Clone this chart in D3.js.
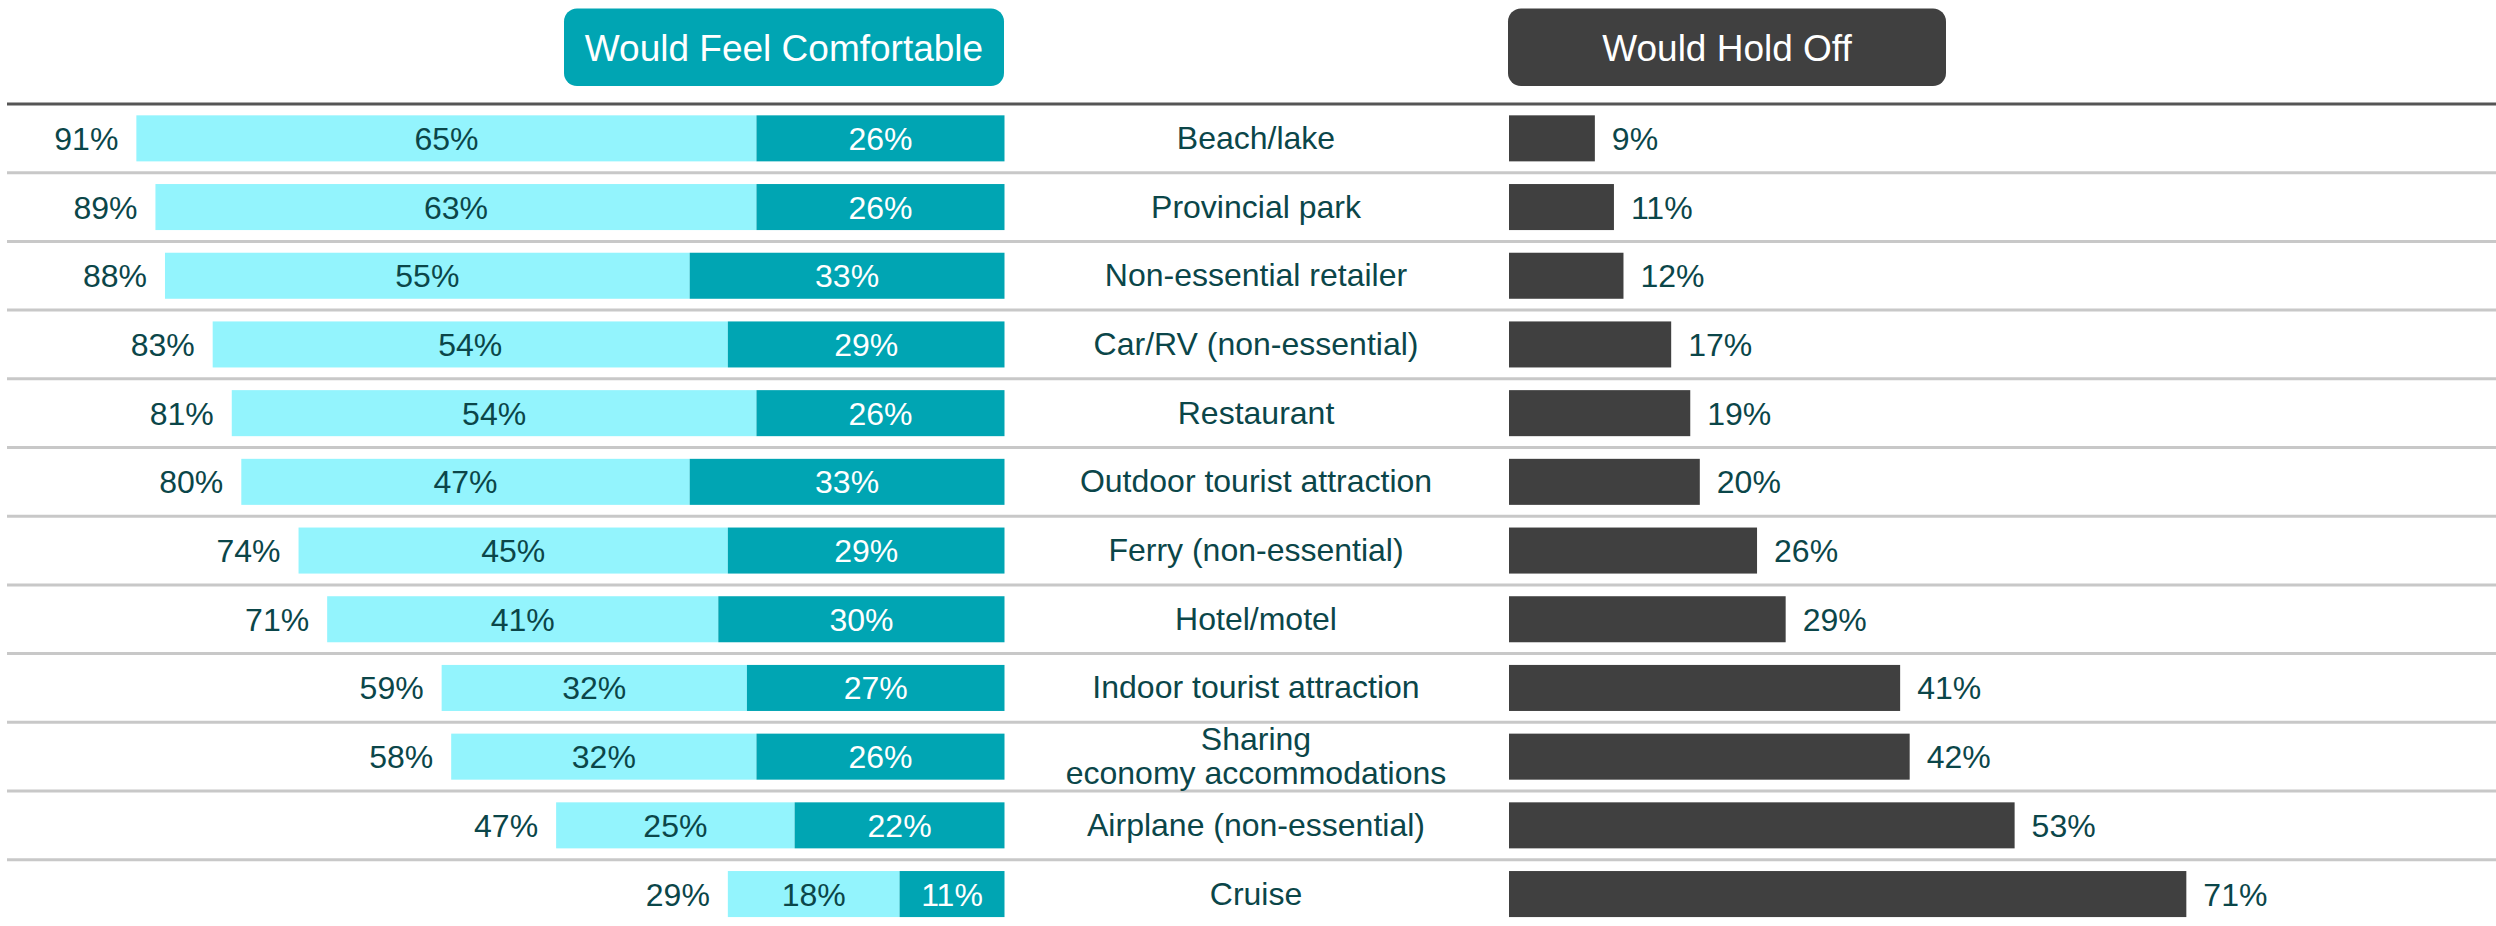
<!DOCTYPE html>
<html>
<head>
<meta charset="utf-8">
<script src="https://cdn.jsdelivr.net/npm/d3@7"></script>
<style>
  html, body { margin: 0; padding: 0; background: #ffffff; }
  svg { display: block; }
  text { font-family: "Liberation Sans", Arial, "DejaVu Sans", sans-serif; }
</style>
</head>
<body>
<svg id="chart" width="2496" height="926"></svg>
<script>
// ---- Data ----
const categories = [
  "Beach/lake", "Provincial park", "Non-essential retailer", "Car/RV (non-essential)",
  "Restaurant", "Outdoor tourist attraction", "Ferry (non-essential)", "Hotel/motel",
  "Indoor tourist attraction", "Sharing\neconomy accommodations", "Airplane (non-essential)", "Cruise"
];
const somewhatComfortable = [65, 63, 55, 54, 54, 47, 45, 41, 32, 32, 25, 18];
const veryComfortable     = [26, 26, 33, 29, 26, 33, 29, 30, 27, 26, 22, 11];
const totalComfortable    = [91, 89, 88, 83, 81, 80, 74, 71, 59, 58, 47, 29];
const holdOff             = [9, 11, 12, 17, 19, 20, 26, 29, 41, 42, 53, 71];
const headers = ["Would Feel Comfortable", "Would Hold Off"];

// ---- Layout ----
const W = 2496, H = 926;
const svg = d3.select("#chart");
const textColor = "#0b4649";
const lightCyan = "#93f4fd";
const teal = "#00a5b3";
const dark = "#404040";

const rowTop = 104, rowH = 68.7;
const y = d3.scaleBand()
  .domain(d3.range(categories.length))
  .range([rowTop, rowTop + rowH * categories.length])
  .paddingInner(0.33).paddingOuter(0.165);

const leftEnd = 1004.5, rightStart = 1509, pxPer = 9.54;
const xLeft = d3.scaleLinear().domain([0, 100]).range([leftEnd, leftEnd - 100 * pxPer]);
const xRight = d3.scaleLinear().domain([0, 100]).range([rightStart, rightStart + 100 * pxPer]);
const labelX = 1256;
const fs = 32;

// ---- Headers ----
const headerBoxes = [
  { x: 564, w: 440, fill: teal, text: headers[0] },
  { x: 1508, w: 438, fill: dark, text: headers[1] }
];
const hg = svg.append("g");
hg.selectAll("rect").data(headerBoxes).join("rect")
  .attr("x", d => d.x).attr("y", 8.5).attr("width", d => d.w).attr("height", 77.5)
  .attr("rx", 13).attr("ry", 13).attr("fill", d => d.fill);
hg.selectAll("text").data(headerBoxes).join("text")
  .attr("x", d => d.x + d.w / 2).attr("y", 61)
  .attr("text-anchor", "middle").attr("fill", "#ffffff")
  .attr("font-size", 37).text(d => d.text);

// ---- Grid lines ----
svg.append("line")
  .attr("x1", 7).attr("x2", W).attr("y1", rowTop).attr("y2", rowTop)
  .attr("stroke", "#555555").attr("stroke-width", 3);
svg.append("g").selectAll("line").data(d3.range(1, categories.length)).join("line")
  .attr("x1", 7).attr("x2", W)
  .attr("y1", i => rowTop + rowH * i).attr("y2", i => rowTop + rowH * i)
  .attr("stroke", "#c8c8c8").attr("stroke-width", 3);

const rows = d3.range(categories.length);
const cy = i => y(i) + y.bandwidth() / 2;
const base = 0.358 * fs;

// ---- Left stacked bars ----
const lg = svg.append("g");
// light segment: from the "very" boundary out to the total
lg.selectAll("rect.light").data(rows).join("rect").attr("class", "light")
  .attr("x", i => xLeft(totalComfortable[i]))
  .attr("y", i => y(i)).attr("height", y.bandwidth())
  .attr("width", i => xLeft(veryComfortable[i]) - xLeft(totalComfortable[i]))
  .attr("fill", lightCyan);
lg.selectAll("rect.very").data(rows).join("rect").attr("class", "very")
  .attr("x", i => xLeft(veryComfortable[i]))
  .attr("y", i => y(i)).attr("height", y.bandwidth())
  .attr("width", i => xLeft(0) - xLeft(veryComfortable[i]))
  .attr("fill", teal);
lg.selectAll("text.lightlab").data(rows).join("text").attr("class", "lightlab")
  .attr("x", i => (xLeft(veryComfortable[i]) + xLeft(totalComfortable[i])) / 2)
  .attr("y", i => cy(i) + base).attr("text-anchor", "middle")
  .attr("font-size", fs).attr("fill", textColor)
  .text(i => somewhatComfortable[i] + "%");
lg.selectAll("text.verylab").data(rows).join("text").attr("class", "verylab")
  .attr("x", i => (xLeft(0) + xLeft(veryComfortable[i])) / 2)
  .attr("y", i => cy(i) + base).attr("text-anchor", "middle")
  .attr("font-size", fs).attr("fill", "#ffffff")
  .text(i => veryComfortable[i] + "%");
lg.selectAll("text.total").data(rows).join("text").attr("class", "total")
  .attr("x", i => xLeft(totalComfortable[i]) - 18)
  .attr("y", i => cy(i) + base).attr("text-anchor", "end")
  .attr("font-size", fs).attr("fill", textColor)
  .text(i => totalComfortable[i] + "%");

// ---- Category labels ----
const cg = svg.append("g");
cg.selectAll("text").data(rows).join("text")
  .attr("x", labelX).attr("text-anchor", "middle")
  .attr("font-size", fs).attr("fill", textColor)
  .each(function(i) {
    const lines = categories[i].split("\n");
    const t = d3.select(this);
    const lh = 34;
    const start = cy(i) + base - (lines.length - 1) * lh / 2 - 1;
    lines.forEach((ln, k) => {
      t.append("tspan").attr("x", labelX).attr("y", start + k * lh).text(ln);
    });
  });

// ---- Right bars ----
const rg = svg.append("g");
rg.selectAll("rect").data(rows).join("rect")
  .attr("x", xRight(0)).attr("y", i => y(i)).attr("height", y.bandwidth())
  .attr("width", i => xRight(holdOff[i]) - xRight(0))
  .attr("fill", dark);
rg.selectAll("text").data(rows).join("text")
  .attr("x", i => xRight(holdOff[i]) + 17)
  .attr("y", i => cy(i) + base)
  .attr("font-size", fs).attr("fill", textColor)
  .text(i => holdOff[i] + "%");
</script>
</body>
</html>
